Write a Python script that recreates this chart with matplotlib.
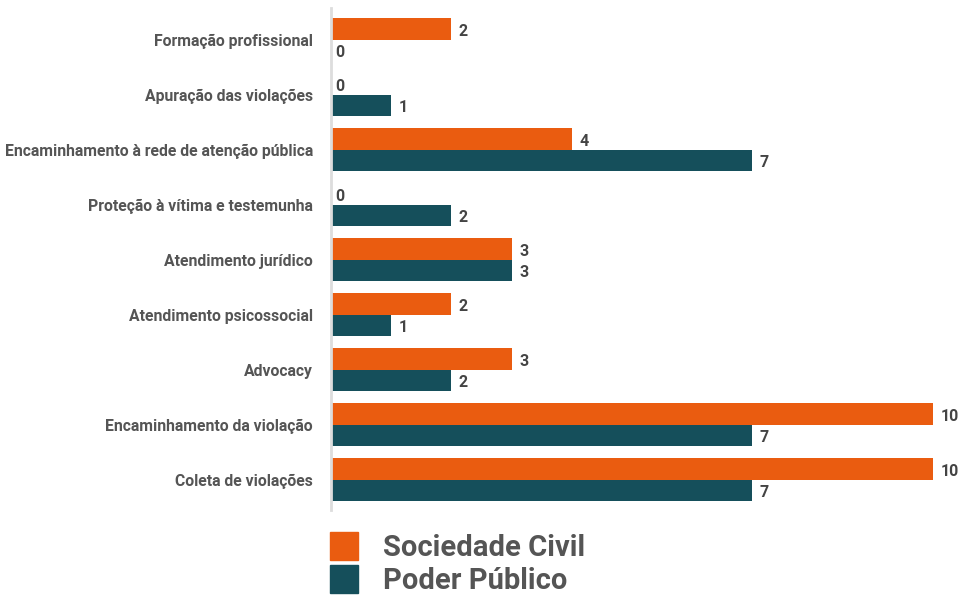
import numpy as np
import matplotlib.pyplot as plt
from matplotlib.patches import Patch

categorias = ['Formação profissional', 'Apuração das violações',
              'Encaminhamento à rede de atenção pública', 'Proteção à vítima e testemunha',
              'Atendimento jurídico', 'Atendimento psicossocial', 'Advocacy',
              'Encaminhamento da violação', 'Coleta de violações']
sociedade_civil = [2, 0, 4, 0, 3, 2, 3, 10, 10]
poder_publico = [0, 1, 7, 2, 3, 1, 2, 7, 7]

laranja = '#EA5C10'
azul = '#154F5B'
plt.rcParams['font.family'] = ['Roboto', 'DejaVu Sans']

fig = plt.figure(figsize=(9.58, 5.95), dpi=100)
ax = fig.add_axes([331/958, 1 - 510/595, 1 - 331/958, 502/595])

y = np.arange(len(categorias))
h = 0.39
ax.barh(y - h/2, sociedade_civil, height=h, color=laranja)
ax.barh(y + h/2, poder_publico, height=h, color=azul)

def rotulo(v, yy):
    dx = 3 if v == 0 else 5.5
    ax.annotate(str(v), (v, yy), xytext=(dx, -1.5), textcoords='offset points',
                va='center', ha='left', fontsize=11.5, fontweight='bold', color='#444444')

for i in range(len(categorias)):
    rotulo(sociedade_civil[i], y[i] - h/2)
    rotulo(poder_publico[i], y[i] + h/2)

ax.set_yticks(y)
ax.set_yticklabels(categorias, fontsize=11.3, fontweight='bold', color='#555555')
ax.tick_params(axis='y', length=0, pad=13)
ax.set_xticks([])
ax.set_xlim(0, 10.42)
ax.set_ylim(8.55, -0.58)
for s in ['top', 'right', 'bottom']:
    ax.spines[s].set_visible(False)
ax.spines['left'].set_color('#dddddd')
ax.spines['left'].set_linewidth(2)

handles = [Patch(color=laranja), Patch(color=azul)]
fig.legend(handles, ['Sociedade Civil', 'Poder Público'], loc='upper left',
           bbox_to_anchor=(330/958, 1 - 532/595), frameon=False,
           prop={'size': 21, 'weight': 'bold'}, labelcolor='#555555',
           handlelength=0.96, handleheight=1.1, handletextpad=0.85, labelspacing=0.12,
           borderpad=0, borderaxespad=0)

fig.savefig('out.png', dpi=100)
